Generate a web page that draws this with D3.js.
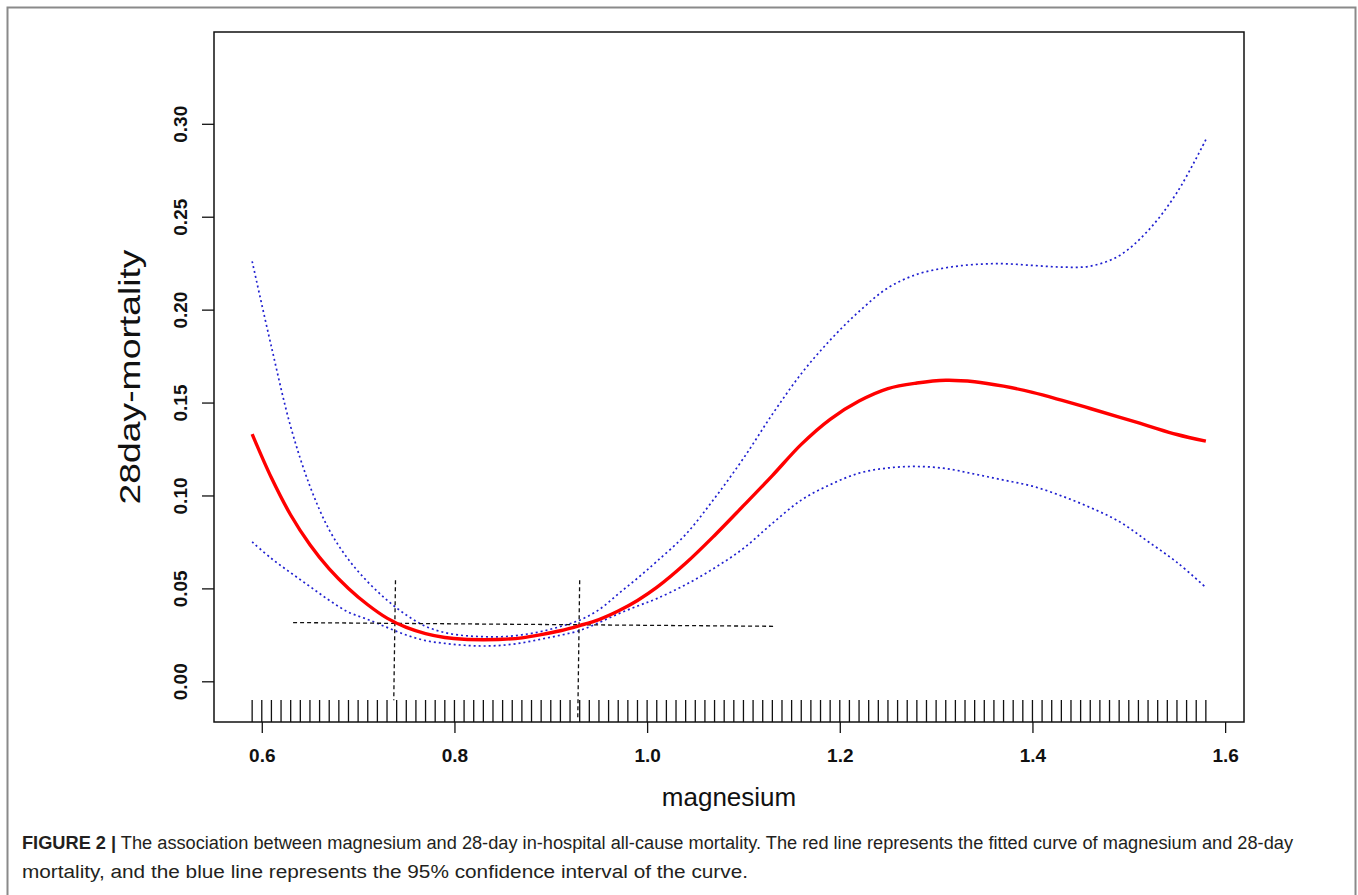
<!DOCTYPE html>
<html>
<head>
<meta charset="utf-8">
<script src="https://cdn.jsdelivr.net/npm/d3@7/dist/d3.min.js"></script>
<style>
    body { margin: 0; background: #ffffff; }
    svg { display: block; }
</style>
</head>
<body>
<svg id="chart"></svg>
<script>
/*
 * Values (magnesium vs 28-day mortality, smooth curve + 95% CI)
 */
let magnesium = [0.59, 0.61, 0.63, 0.65, 0.67, 0.69, 0.71, 0.73, 0.75, 0.77, 0.79, 0.81, 0.83, 0.85,
    0.87, 0.89, 0.91, 0.93, 0.95, 0.97, 0.99, 1.01, 1.04, 1.07, 1.10, 1.13, 1.16, 1.19, 1.22, 1.25,
    1.28, 1.31, 1.34, 1.37, 1.40, 1.43, 1.46, 1.49, 1.52, 1.55, 1.58];

let fitted = [0.133, 0.1095, 0.0895, 0.0735, 0.0605, 0.0500, 0.0412, 0.0340, 0.0290, 0.0257, 0.0236,
    0.0226, 0.0224, 0.0226, 0.0234, 0.0251, 0.0272, 0.0300, 0.0332, 0.0378, 0.0435, 0.0505, 0.0635,
    0.0785, 0.0945, 0.1107, 0.1275, 0.1410, 0.1508, 0.1575, 0.1605, 0.1620, 0.1612, 0.1588, 0.1555,
    0.1513, 0.1468, 0.1422, 0.1375, 0.1328, 0.1292];

let upperCI = [0.226, 0.180, 0.137, 0.105, 0.0815, 0.0655, 0.0535, 0.0437, 0.0357, 0.0296, 0.0262,
    0.0246, 0.0240, 0.0240, 0.0250, 0.0268, 0.0295, 0.0329, 0.0385, 0.0470, 0.0555, 0.0645, 0.0790,
    0.0985, 0.1200, 0.1437, 0.1655, 0.1836, 0.1990, 0.2117, 0.2190, 0.2225, 0.2243, 0.2247, 0.2238,
    0.2229, 0.2234, 0.2290, 0.2425, 0.2630, 0.2915];

let lowerCI = [0.075, 0.0661, 0.0584, 0.0510, 0.0436, 0.0372, 0.0333, 0.0290, 0.0249, 0.0219, 0.0204,
    0.0194, 0.0190, 0.0194, 0.0207, 0.0227, 0.0248, 0.0273, 0.0316, 0.0363, 0.0405, 0.0445, 0.0520,
    0.0610, 0.0715, 0.0850, 0.0975, 0.1058, 0.1120, 0.1148, 0.1156, 0.1145, 0.1115, 0.1083, 0.1050,
    0.0998, 0.0935, 0.0860, 0.0752, 0.0640, 0.0505];

// observed magnesium values (rug along the bottom)
let rugValues = [0.59, 0.60, 0.61, 0.62, 0.63, 0.64, 0.65, 0.66, 0.67, 0.68, 0.69, 0.70, 0.71, 0.72,
    0.73, 0.74, 0.75, 0.76, 0.77, 0.78, 0.79, 0.80, 0.81, 0.82, 0.83, 0.84, 0.85, 0.86, 0.87, 0.88,
    0.89, 0.90, 0.91, 0.92, 0.93, 0.94, 0.95, 0.96, 0.97, 0.98, 0.99, 1.00, 1.01, 1.02, 1.03, 1.04,
    1.05, 1.06, 1.07, 1.08, 1.09, 1.10, 1.11, 1.12, 1.13, 1.14, 1.15, 1.16, 1.17, 1.18, 1.19, 1.20,
    1.21, 1.22, 1.23, 1.24, 1.25, 1.26, 1.27, 1.28, 1.29, 1.30, 1.31, 1.32, 1.33, 1.34, 1.35, 1.36,
    1.37, 1.38, 1.39, 1.40, 1.41, 1.42, 1.43, 1.44, 1.45, 1.46, 1.47, 1.48, 1.49, 1.50, 1.51, 1.52,
    1.53, 1.54, 1.55, 1.56, 1.57, 1.58];

// threshold reference lines (dashed), as [magnesium, mortality] end points
let refHorizontal = [[0.6325, 0.0316], [1.1327, 0.0296]];
let refVertical1 = [[0.7388, 0.0544], [0.737, -0.0102]];
let refVertical2 = [[0.930, 0.0544], [0.928, -0.0205]];

let xTicks = [0.6, 0.8, 1.0, 1.2, 1.4, 1.6];
let yTicks = [0.00, 0.05, 0.10, 0.15, 0.20, 0.25, 0.30];

let xTitle = "magnesium";
let yTitle = "28day-mortality";
let captionBold = "FIGURE 2 |";
let captionLine1 = " The association between magnesium and 28-day in-hospital all-cause mortality. The red line represents the fitted curve of magnesium and 28-day";
let captionLine2 = "mortality, and the blue line represents the 95% confidence interval of the curve.";


function drawChart(){
    let width = 1358;
    let height = 895;
    let font = "'Liberation Sans', Arial, sans-serif";

    // plot box in page pixels
    let left = 214, right = 1244, top = 32, bottom = 722;

    let svg = d3.select("#chart").attr("width", width).attr("height", height);

    // outer figure frame
    svg.append("rect")
        .attr("x", 7.5).attr("y", 7.5)
        .attr("width", 1348).attr("height", 905)
        .attr("fill", "none")
        .attr("stroke", "#8a8a8a")
        .attr("stroke-width", 2);

    let x = d3.scaleLinear().domain([0.5504, 1.6196]).range([left, right]);
    let y = d3.scaleLinear().domain([-0.0219, 0.3494]).range([bottom, top]);

    let line = d3.line()
        .x(function(d){ return x(d[0]); })
        .y(function(d){ return y(d[1]); })
        .curve(d3.curveCatmullRom);

    // confidence band lines (blue dotted)
    [upperCI, lowerCI].forEach(function(series){
        svg.append("path")
            .datum(magnesium.map(function(m, i){ return [m, series[i]]; }))
            .attr("d", line)
            .attr("fill", "none")
            .attr("stroke", "#2020d0")
            .attr("stroke-width", 1.7)
            .attr("stroke-dasharray", "2,3");
    });

    // dashed black threshold lines
    [refHorizontal, refVertical1, refVertical2].forEach(function(seg){
        svg.append("path")
            .datum(seg)
            .attr("d", d3.line().x(function(d){ return x(d[0]); }).y(function(d){ return y(d[1]); }))
            .attr("fill", "none")
            .attr("stroke", "#111")
            .attr("stroke-width", 1.3)
            .attr("stroke-dasharray", "4,3");
    });

    // fitted curve (red)
    svg.append("path")
        .datum(magnesium.map(function(m, i){ return [m, fitted[i]]; }))
        .attr("d", line)
        .attr("fill", "none")
        .attr("stroke", "#ff0000")
        .attr("stroke-width", 3.4);

    // rug
    svg.selectAll(".rug")
        .data(rugValues)
        .enter()
        .append("line")
        .attr("class", "rug")
        .attr("x1", function(d){ return x(d); })
        .attr("x2", function(d){ return x(d); })
        .attr("y1", bottom)
        .attr("y2", bottom - 22)
        .attr("stroke", "#111")
        .attr("stroke-width", 1.3);

    // x axis
    let xAxis = svg.append("g")
        .attr("transform", "translate(0," + bottom + ")")
        .call(d3.axisBottom(x).tickValues(xTicks).tickFormat(d3.format(".1f")).tickSize(11).tickPadding(16).tickSizeOuter(0));
    xAxis.select(".domain").remove();
    xAxis.selectAll("line").attr("stroke", "#111").attr("stroke-width", 1.3);
    xAxis.selectAll("text")
        .attr("fill", "#111")
        .style("font-family", font)
        .style("font-size", "19px")
        .style("font-weight", "bold");

    // y axis, labels turned like R's las=0
    let yAxis = svg.append("g")
        .attr("transform", "translate(" + left + ",0)")
        .call(d3.axisLeft(y).tickValues(yTicks).tickFormat(d3.format(".2f")).tickSize(12).tickSizeOuter(0));
    yAxis.select(".domain").remove();
    yAxis.selectAll("line").attr("stroke", "#111").attr("stroke-width", 1.3);
    yAxis.selectAll("text")
        .attr("x", 0)
        .attr("y", -27.5)
        .attr("dy", null)
        .attr("transform", "rotate(-90)")
        .attr("text-anchor", "middle")
        .attr("fill", "#111")
        .style("font-family", font)
        .style("font-size", "19px")
        .style("font-weight", "bold");

    // plot box
    svg.append("rect")
        .attr("x", left).attr("y", top)
        .attr("width", right - left).attr("height", bottom - top)
        .attr("fill", "none")
        .attr("stroke", "#111")
        .attr("stroke-width", 1.5);

    // axis titles
    svg.append("text")
        .attr("x", (left + right) / 2)
        .attr("y", 806)
        .attr("text-anchor", "middle")
        .style("font-family", font)
        .style("font-size", "26px")
        .attr("fill", "#111")
        .text(xTitle);

    // the y title is drawn a bit stretched along its length, as in the figure
    svg.append("text")
        .attr("transform", "translate(140," + ((top + bottom) / 2) + ") rotate(-90)")
        .attr("text-anchor", "middle")
        .attr("textLength", 255)
        .attr("lengthAdjust", "spacingAndGlyphs")
        .style("font-family", font)
        .style("font-size", "30px")
        .attr("fill", "#111")
        .text(yTitle);

    // caption, two lines squeezed/stretched to the widths seen in the figure
    let cap = svg.append("text")
        .attr("x", 22)
        .attr("y", 849)
        .attr("textLength", 1271)
        .attr("lengthAdjust", "spacingAndGlyphs")
        .style("font-family", font)
        .style("font-size", "18px")
        .attr("fill", "#231f20");
    cap.append("tspan").style("font-weight", "bold").text(captionBold);
    cap.append("tspan").text(captionLine1);

    svg.append("text")
        .attr("x", 22)
        .attr("y", 878)
        .attr("textLength", 726)
        .attr("lengthAdjust", "spacingAndGlyphs")
        .style("font-family", font)
        .style("font-size", "18px")
        .attr("fill", "#231f20")
        .text(captionLine2);
}

drawChart();
</script>
</body>
</html>
